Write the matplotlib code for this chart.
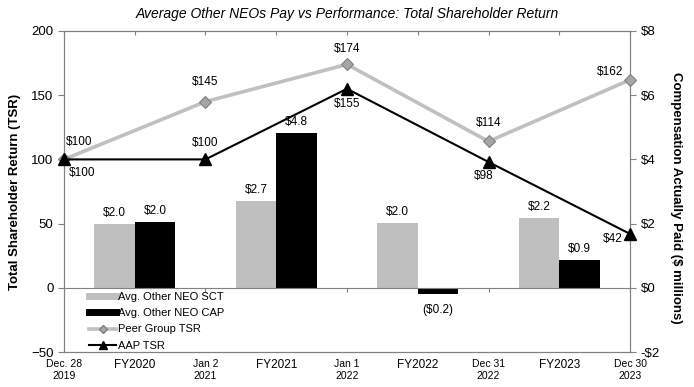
import matplotlib
matplotlib.use("Agg")
import matplotlib.pyplot as plt
from matplotlib.lines import Line2D

plt.rcParams["font.family"] = ["Liberation Sans", "DejaVu Sans"]

# ── data ──────────────────────────────────────────────────────────────────────
x_labels = ["Dec. 28\n2019", "FY2020", "Jan 2\n2021", "FY2021", "Jan 1\n2022",
            "FY2022", "Dec 31\n2022", "FY2023", "Dec 30\n2023"]

fiscal_years = ["FY2020", "FY2021", "FY2022", "FY2023"]
neo_sct = [1.99, 2.70, 2.03, 2.18]      # $ millions
neo_cap = [2.05, 4.82, -0.2, 0.87]      # $ millions

tsr_dates = ["Dec. 28\n2019", "Jan 2\n2021", "Jan 1\n2022", "Dec 31\n2022", "Dec 30\n2023"]
peer_tsr = [100, 145, 174, 114, 162]
aap_tsr = [100, 100, 155, 98, 42]

# label offsets in pixels (dx, dy)
peer_off = [(15, 17), (0, 20), (0, 15), (0, 18), (-20, 8)]
aap_off = [(18, -14), (0, 16), (0, -15), (-5, -14), (-17, -5)]

GRAY_AX = "#808080"
BAR_GRAY = "#BFBFBF"

fig = plt.figure(figsize=(6.94, 3.87), dpi=100)
ax = fig.add_axes([0.0922, 0.0904, 0.8156, 0.8295])   # bars, $ scale (right)
ax2 = ax.twinx()                                      # TSR lines (left)

pos = {lab: i for i, lab in enumerate(x_labels)}
bar_x = [pos[f] for f in fiscal_years]
tsr_x = [pos[d] for d in tsr_dates]

# ── bars ──────────────────────────────────────────────────────────────────────
w = 0.57
ax.bar([x - w for x in bar_x], neo_sct, width=w, align="edge", color=BAR_GRAY)
ax.bar(bar_x, neo_cap, width=w, align="edge", color="black")
ax.axhline(0, color=GRAY_AX, lw=0.8, zorder=1)
ax.vlines(tsr_x, -0.12, 0, color=GRAY_AX, lw=0.8)

def money(v):
    return f"(${abs(v):.1f})" if v < 0 else f"${v:.1f}"

for x, v in zip(bar_x, neo_sct):
    ax.annotate(money(v), (x - w / 2, v), xytext=(0, 5), textcoords="offset pixels",
                ha="center", va="bottom", fontsize=8.5)
for x, v in zip(bar_x, neo_cap):
    off = (0, 5) if v >= 0 else (0, -10)
    ax.annotate(money(v), (x + w / 2, v), xytext=off, textcoords="offset pixels",
                ha="center", va="bottom" if v >= 0 else "top", fontsize=8.5)

ax.set_ylim(-2, 8)
ax.set_yticks(range(-2, 9, 2))
ax.set_yticklabels([f"-${-t}" if t < 0 else f"${t}" for t in range(-2, 9, 2)])
ax.yaxis.tick_right()
ax.set_ylabel("Compensation Actually Paid ($ millions)", fontsize=9.5,
              fontweight="bold", rotation=270, va="center")
ax.yaxis.set_label_coords(1.082, 0.48)

# ── lines ─────────────────────────────────────────────────────────────────────
ax2.plot(tsr_x, peer_tsr, color="#C0C0C0", lw=2.6, marker="D", ms=6,
         mfc="#A6A6A6", mec="#7F7F7F", mew=0.8, zorder=3, clip_on=False)
ax2.plot(tsr_x, aap_tsr, color="black", lw=1.5, marker="^", ms=8,
         zorder=4, clip_on=False)

for x, v, o in zip(tsr_x, peer_tsr, peer_off):
    ax2.annotate(f"${v}", (x, v), xytext=o, textcoords="offset pixels",
                 ha="center", va="center", fontsize=8.5)
for x, v, o in zip(tsr_x, aap_tsr, aap_off):
    ax2.annotate(f"${v}", (x, v), xytext=o, textcoords="offset pixels",
                 ha="center", va="center", fontsize=8.5)

ax2.set_ylim(-50, 200)
ax2.set_yticks(range(-50, 201, 50))
ax2.yaxis.tick_left()
ax2.set_ylabel("Total Shareholder Return (TSR)", fontsize=9.5, fontweight="bold",
               va="center")
ax2.yaxis.set_label_coords(-0.087, 0.5)

# ── axes styling ──────────────────────────────────────────────────────────────
ax.set_xlim(0, 8)
ax.set_xticks(range(len(x_labels)))
ax.set_xticklabels(x_labels)
for t in ax.get_xticklabels():
    t.set_fontsize(7.5 if "\n" in t.get_text() else 8.5)
ax.tick_params(axis="x", bottom=False, top=True, direction="in", length=3,
               color=GRAY_AX, labelbottom=True, labeltop=False, pad=5)
ax.tick_params(axis="y", direction="out", length=4, color=GRAY_AX, labelsize=9.5)
ax2.tick_params(axis="y", direction="out", length=4, color=GRAY_AX, labelsize=9.5)
for a in (ax, ax2):
    for s in a.spines.values():
        s.set_color(GRAY_AX)
        s.set_linewidth(0.8)

ax.set_title("Average Other NEOs Pay vs Performance: Total Shareholder Return",
             fontsize=10, fontstyle="italic", pad=9)

handles = [
    Line2D([], [], color=BAR_GRAY, lw=5),
    Line2D([], [], color="black", lw=5),
    Line2D([], [], color="#C0C0C0", lw=2.6, marker="D", ms=4,
           mfc="#A6A6A6", mec="#7F7F7F"),
    Line2D([], [], color="black", lw=1.5, marker="^", ms=6),
]
labels = ["Avg. Other NEO SCT", "Avg. Other NEO CAP", "Peer Group TSR", "AAP TSR"]
ax2.legend(handles, labels, loc="upper left", bbox_to_anchor=(0.037, 0.2),
           frameon=False, fontsize=8, handlelength=2.4, handletextpad=0.2,
           labelspacing=0.55, borderaxespad=0)

fig.savefig("out.png", dpi=100)
